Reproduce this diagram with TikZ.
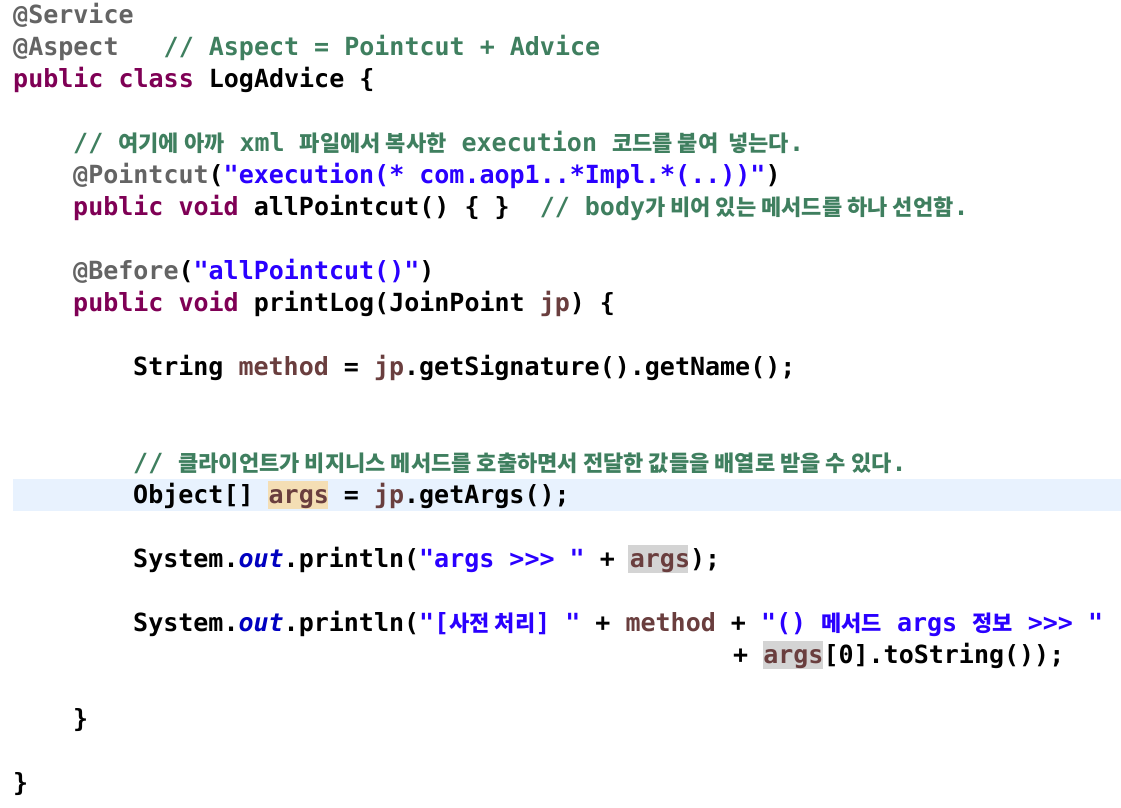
\documentclass[tikz,border=0pt]{standalone}
\usepackage{fontspec}
\setmonofont{DejaVu Sans Mono}
\newfontfamily\cjk{Noto Sans CJK KR}
\usepackage{xcolor}
\definecolor{annot}{HTML}{646464}
\definecolor{keyw}{HTML}{7F0055}
\definecolor{comm}{HTML}{3F7F5F}
\definecolor{strg}{HTML}{2A00FF}
\definecolor{vari}{HTML}{6A3E3E}
\definecolor{fild}{HTML}{0000C0}
\definecolor{curline}{HTML}{E8F2FE}
\definecolor{occmark}{HTML}{F4DEB4}
\definecolor{refmark}{HTML}{D4D4D4}
\newcommand{\kr}[1]{{\cjk\fontsize{22}{22}\selectfont #1}}
\newcommand{\an}[1]{\textcolor{annot}{#1}}
\newcommand{\kw}[1]{\textcolor{keyw}{#1}}
\newcommand{\cm}[1]{\textcolor{comm}{#1}}
\newcommand{\st}[1]{\textcolor{strg}{#1}}
\newcommand{\vr}[1]{\textcolor{vari}{#1}}
\newcommand{\fd}[1]{\textcolor{fild}{\itshape #1}}
\tikzset{
  codeline/.style={anchor=base west, inner sep=0pt,
    font=\ttfamily\bfseries\fontsize{25}{25}\selectfont},
}
\begin{document}
\begin{tikzpicture}[x=1pt, y=-1pt]
  \useasboundingbox[fill=white] (0,0) rectangle (1121,807);
  % highlights
  \fill[curline] (13,479) rectangle (1121,511);
  \fill[occmark] (268,481) rectangle (328,509);
  \fill[refmark] (628,545) rectangle (688,573);
  \fill[refmark] (763,641) rectangle (823,669);
  % code lines
  \node[codeline] (l1) at (13,23) {\an{@Service}};
  \node[codeline] (l2) at (13,55) {\an{@Aspect}\ \ \ \cm{// Aspect = Pointcut + Advice}};
  \node[codeline] (l3) at (13,87) {\kw{public} \kw{class} LogAdvice \{};
  \node[codeline] (l4) at (73,151) {\cm{// \kr{여기에 아까} xml \kr{파일에서 복사한} execution \kr{코드를 붙여 \ 넣는다}.}};
  \node[codeline] (l5) at (73,183) {\an{@Pointcut}(\st{"execution(* com.aop1..*Impl.*(..))"})};
  \node[codeline] (l6) at (73,215) {\kw{public} \kw{void} allPointcut() \{ \}\ \ \cm{// body\kr{가 비어 있는 메서드를 하나 선언함}.}};
  \node[codeline] (l7) at (73,279) {\an{@Before}(\st{"allPointcut()"})};
  \node[codeline] (l8) at (73,311) {\kw{public} \kw{void} printLog(JoinPoint \vr{jp}) \{};
  \node[codeline] (l9) at (133,375) {String \vr{method} = \vr{jp}.getSignature().getName();};
  \node[codeline] (l10) at (133,471) {\cm{// \kr{클라이언트가 비지니스 메서드를 호출하면서 전달한 값들을 배열로 받을 수 있다}.}};
  \node[codeline] (l11) at (133,503) {Object[] \vr{args} = \vr{jp}.getArgs();};
  \node[codeline] (l12) at (133,567) {System.\fd{out}.println(\st{"args >>> "} + \vr{args});};
  \node[codeline] (l13) at (133,631) {System.\fd{out}.println(\st{"[\kr{사전 처리}] "} + \vr{method} + \st{"() \kr{메서드} args \kr{정보} >>> "}};
  \node[codeline] (l14) at (733,663) {+ \vr{args}[0].toString());};
  \node[codeline] (l15) at (73,727) {\}};
  \node[codeline] (l16) at (13,791) {\}};
\end{tikzpicture}
\end{document}
